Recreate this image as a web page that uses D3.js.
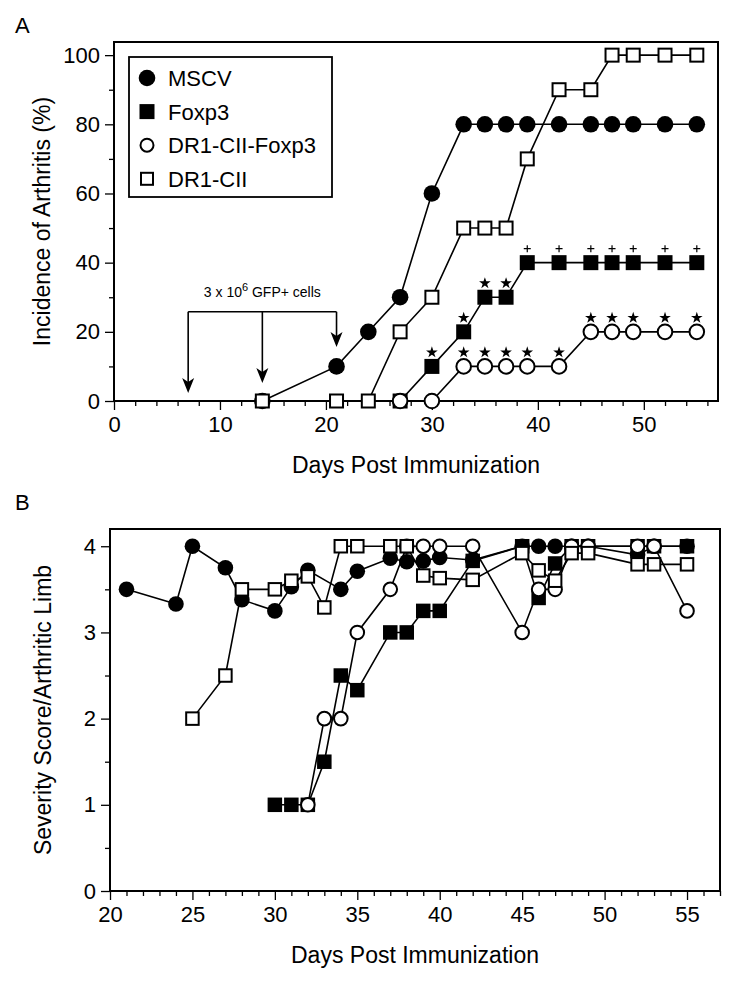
<!DOCTYPE html>
<html><head><meta charset="utf-8">
<script src="https://cdn.jsdelivr.net/npm/d3@7"></script>
<style>
body{margin:0;background:#fff}
svg{display:block}
text{font-family:"Liberation Sans",Arial,Helvetica,sans-serif;fill:#000}
</style>
</head><body>
<svg id="c" width="736" height="983"></svg>
<script>
// ---------- Panel A: incidence of arthritis (%) ----------
const daysA_MSCV = [14,21,24,27,30,33,35,37,39,42,45,47,49,52,55];
const incA_MSCV  = [0,10,20,30,60,80,80,80,80,80,80,80,80,80,80];
const daysA_Foxp3 = [27,30,33,35,37,39,42,45,47,49,52,55];
const incA_Foxp3  = [0,10,20,30,30,40,40,40,40,40,40,40];
const daysA_DR1Foxp3 = [27,30,33,35,37,39,42,45,47,49,52,55];
const incA_DR1Foxp3  = [0,0,10,10,10,10,10,20,20,20,20,20];
const daysA_DR1 = [14,21,24,27,30,33,35,37,39,42,45,47,49,52,55];
const incA_DR1  = [0,0,0,20,30,50,50,50,70,90,90,100,100,100,100];
const starDaysFoxp3 = [30,33,35,37];
const plusDaysFoxp3 = [39,42,45,47,49,52,55];
const starDaysDR1Foxp3 = [33,35,37,39,42,45,47,49,52,55];
const injectionDays = [7,14,21];
const xTicksA = [0,10,20,30,40,50];
const yTicksA = [0,20,40,60,80,100];

// ---------- Panel B: severity score / arthritic limb ----------
const daysB_MSCV = [21,24,25,27,28,30,31,32,34,35,37,38,39,40,42,45,46,47,48,49,52,53,55];
const sevB_MSCV  = [3.5,3.33,4,3.75,3.38,3.25,3.53,3.72,3.5,3.71,3.86,3.82,3.83,3.87,3.84,4,4,4,4,4,3.9,4,4];
const daysB_Foxp3 = [30,31,32,33,34,35,37,38,39,40,42,45,46,47,48,49,52,53,55];
const sevB_Foxp3  = [1,1,1,1.5,2.5,2.33,3,3,3.25,3.25,3.83,4,3.4,3.8,4,4,4,4,4];
const daysB_DR1Foxp3 = [32,33,34,35,37,38,39,40,42,45,46,47,48,49,52,53,55];
const sevB_DR1Foxp3  = [1,2,2,3,3.5,4,4,4,4,3,3.5,3.5,4,4,4,4,3.25];
const daysB_DR1 = [25,27,28,30,31,32,33,34,35,37,38,39,40,42,45,46,47,48,49,52,53,55];
const sevB_DR1  = [2,2.5,3.5,3.5,3.6,3.65,3.29,4,4,4,4,3.66,3.63,3.61,3.92,3.72,3.6,3.92,3.92,3.79,3.79,3.79];
const xTicksB = [20,25,30,35,40,45,50,55];
const yTicksB = [0,1,2,3,4];

const seriesNames = ["MSCV","Foxp3","DR1-CII-Foxp3","DR1-CII"];
const seriesShape = ["circle","square","circle","square"];
const seriesFill  = ["#000","#000","#fff","#fff"];

const svg = d3.select("#c");
const zip = (a,b) => a.map((d,i)=>[d,b[i]]);

function drawMarker(g, shape, fill, x, y, r, side) {
  if (shape === "circle") {
    g.append("circle").attr("cx",x).attr("cy",y).attr("r", fill==="#000"? r : r-1)
      .attr("fill",fill).attr("stroke","#000").attr("stroke-width", fill==="#000"?0:2);
  } else {
    const s = fill==="#000"? side : side-2;
    g.append("rect").attr("x",x-s/2).attr("y",y-s/2).attr("width",s).attr("height",s)
      .attr("fill",fill).attr("stroke","#000").attr("stroke-width", fill==="#000"?0:2);
  }
}

function drawPanel(opt) {
  const {x, y, xMajor, xMinor, yMajor, yMinor, series, r, side, yTitle, yTitleX, xTitleY, letter, letterY} = opt;
  const g = svg.append("g");
  const [x0,x1] = x.range(), [y0,y1] = y.range();
  const fmt = d3.format("d");
  g.append("g").attr("transform",`translate(0,${y0})`)
    .call(d3.axisBottom(x).tickValues(xMajor).tickFormat(fmt).tickSize(9).tickPadding(6).tickSizeOuter(0));
  g.append("g").attr("transform",`translate(0,${y0})`)
    .call(d3.axisBottom(x).tickValues(xMinor).tickSize(5).tickFormat("").tickSizeOuter(0));
  g.append("g").attr("transform",`translate(${x0},0)`)
    .call(d3.axisLeft(y).tickValues(yMajor).tickFormat(fmt).tickSize(9).tickPadding(5).tickSizeOuter(0));
  g.append("g").attr("transform",`translate(${x0},0)`)
    .call(d3.axisLeft(y).tickValues(yMinor).tickSize(5).tickFormat("").tickSizeOuter(0));
  g.selectAll(".domain").remove();
  g.selectAll(".tick line").attr("stroke","#000").attr("stroke-width",1.3);
  g.selectAll(".tick text").attr("font-size",22).attr("fill","#000")
    .style("font-family",'"Liberation Sans",Arial,Helvetica,sans-serif');
  g.append("rect").attr("x",x0).attr("y",y1).attr("width",x1-x0).attr("height",y0-y1)
    .attr("fill","none").attr("stroke","#000").attr("stroke-width",2);
  g.append("text").attr("x",(x0+x1)/2).attr("y",xTitleY).attr("text-anchor","middle")
    .attr("font-size",23).text("Days Post Immunization");
  g.append("text").attr("transform",`translate(${yTitleX},${(y0+y1)/2}) rotate(-90)`)
    .attr("text-anchor","middle").attr("font-size",23).text(yTitle);
  g.append("text").attr("x",15).attr("y",letterY).attr("font-size",22).text(letter);
  const line = d3.line().x(d=>x(d[0])).y(d=>y(d[1]));
  series.forEach(s => {
    g.append("path").datum(s.pts).attr("d",line).attr("fill","none")
      .attr("stroke","#000").attr("stroke-width",1.6);
  });
  series.forEach(s => {
    const mg = g.append("g");
    s.pts.forEach(p => drawMarker(mg, s.shape, s.fill, x(p[0]), y(p[1]), r, side));
  });
  return g;
}

// ----- Panel A -----
const xA = d3.scaleLinear().domain([0,57]).range([114,718]);
const yA = d3.scaleLinear().domain([0,103.8]).range([401,42]);
const seriesA = [
  {pts: zip(daysA_MSCV,incA_MSCV)},
  {pts: zip(daysA_Foxp3,incA_Foxp3)},
  {pts: zip(daysA_DR1Foxp3,incA_DR1Foxp3)},
  {pts: zip(daysA_DR1,incA_DR1)}
].map((s,i)=>Object.assign(s,{shape:seriesShape[i],fill:seriesFill[i]}));
const gA = drawPanel({x:xA, y:yA, xMajor:xTicksA,
  xMinor:d3.range(0,57,2).filter(d=>d%10!==0),
  yMajor:yTicksA, yMinor:[10,30,50,70,90], series:seriesA, r:8.3, side:15,
  yTitle:"Incidence of Arthritis (%)", yTitleX:50, xTitleY:473, letter:"A", letterY:33});

const starSym = d3.symbol().type(d3.symbolStar).size(42);
const fVal = d => incA_Foxp3[daysA_Foxp3.indexOf(d)];
const oVal = d => incA_DR1Foxp3[daysA_DR1Foxp3.indexOf(d)];
starDaysFoxp3.forEach(d => gA.append("path").attr("d",starSym())
  .attr("transform",`translate(${xA(d)},${yA(fVal(d))-14})`).attr("fill","#000"));
starDaysDR1Foxp3.forEach(d => gA.append("path").attr("d",starSym())
  .attr("transform",`translate(${xA(d)},${yA(oVal(d))-14})`).attr("fill","#000"));
plusDaysFoxp3.forEach(d => {
  const cx = xA(d), cy = yA(fVal(d)) - 14;
  gA.append("path").attr("d",`M${cx-3.5},${cy}H${cx+3.5}M${cx},${cy-3.5}V${cy+3.5}`)
    .attr("stroke","#000").attr("stroke-width",1.2);
});

const bracketY = yA(25.8);
const tipVals = [2.3,5.2,15.6];
gA.append("path").attr("d",`M${xA(injectionDays[0])},${bracketY}H${xA(injectionDays[2])}`)
  .attr("stroke","#000").attr("stroke-width",1.6).attr("fill","none");
injectionDays.forEach((d,i) => {
  const ax = xA(d), tip = yA(tipVals[i]);
  gA.append("path").attr("d",`M${ax},${bracketY}V${tip-10}`).attr("stroke","#000").attr("stroke-width",1.6);
  gA.append("path").attr("d",`M${ax},${tip}L${ax-6},${tip-15}L${ax},${tip-11}L${ax+6},${tip-15}Z`).attr("fill","#000");
});
const ann = gA.append("text").attr("x",(xA(injectionDays[0])+xA(injectionDays[2]))/2).attr("y",bracketY-15)
  .attr("text-anchor","middle").attr("font-size",14);
ann.append("tspan").text("3 x 10");
ann.append("tspan").attr("dy",-6).attr("font-size",11).text("6");
ann.append("tspan").attr("dy",6).text(" GFP+ cells");

const lg = gA.append("g");
lg.append("rect").attr("x",129).attr("y",57).attr("width",203).attr("height",140)
  .attr("fill","#fff").attr("stroke","#000").attr("stroke-width",1.8);
seriesNames.forEach((n,i) => {
  const cy = 78 + i*33.6;
  drawMarker(lg, seriesShape[i], seriesFill[i], 147, cy, seriesFill[i]==="#000"?8.3:7.5, seriesFill[i]==="#000"?15:14);
  lg.append("text").attr("x",168).attr("y",cy+8).attr("font-size",22).text(n);
});

// ----- Panel B -----
const xB = d3.scaleLinear().domain([20,57]).range([110,720]);
const yB = d3.scaleLinear().domain([0,4.2]).range([891,529]);
const seriesB = [
  {pts: zip(daysB_Foxp3,sevB_Foxp3), i:1},
  {pts: zip(daysB_MSCV,sevB_MSCV), i:0},
  {pts: zip(daysB_DR1Foxp3,sevB_DR1Foxp3), i:2},
  {pts: zip(daysB_DR1,sevB_DR1), i:3}
].map(s=>Object.assign(s,{shape:seriesShape[s.i],fill:seriesFill[s.i]}));
drawPanel({x:xB, y:yB, xMajor:xTicksB,
  xMinor:d3.range(21,58,1).filter(d=>d%5!==0),
  yMajor:yTicksB, yMinor:[0.5,1.5,2.5,3.5], series:seriesB, r:7.8, side:14.5,
  yTitle:"Severity Score/Arthritic Limb", yTitleX:51, xTitleY:963, letter:"B", letterY:510});
</script>
</body></html>
